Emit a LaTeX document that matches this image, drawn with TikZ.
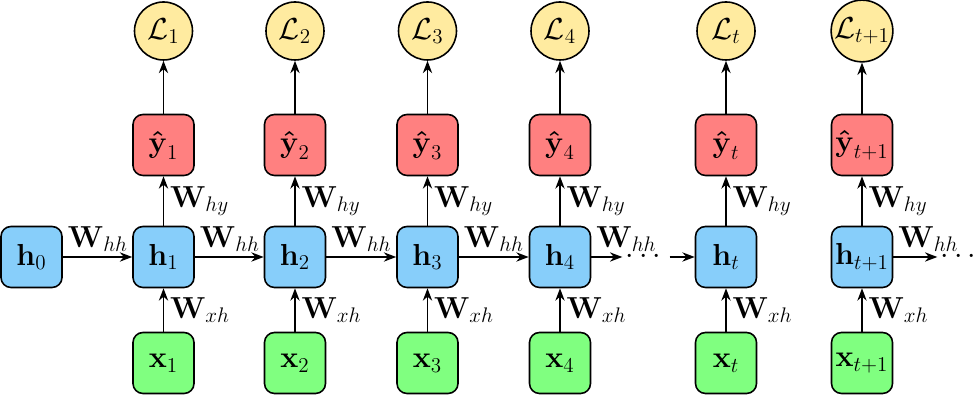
\documentclass[tikz,border=0pt]{standalone}
\usepackage{amsmath,amssymb}
\usetikzlibrary{arrows.meta,positioning}
\definecolor{HidBlue}{HTML}{87CEFA}
\definecolor{OutRed}{HTML}{FF8080}
\definecolor{InGreen}{HTML}{80FF80}
\definecolor{LossYellow}{HTML}{FFEBA0}
\begin{document}
\begin{tikzpicture}[>=Stealth, font=\LARGE, line width=0.9pt,
   cell/.style={draw, rounded corners=0.2cm, minimum size=1.22cm, inner sep=1pt},
   hid/.style={cell, fill=HidBlue},
   inp/.style={cell, fill=InGreen},
   outp/.style={cell, fill=OutRed},
   loss/.style={draw, circle, minimum size=1.16cm, inner sep=0pt, fill=LossYellow},
   gap/.style={inner sep=1.5pt},
   wlab/.style={pos=0, anchor=south west, inner sep=2.5pt}]
  \useasboundingbox (0,0) rectangle (19.6,8.06);
  \node[hid] (h0) at (0.63,2.92) {$\mathbf{h}_0$};
  \foreach \x/\n/\s in {3.27/1/1, 5.90/2/2, 8.55/3/3, 11.20/4/4, 14.52/t/t, 17.24/tp/t+1} {
    \node[hid]  (h\n) at (\x,2.92) {$\mathbf{h}_{\s}$};
    \node[inp]  (x\n) at (\x,0.80) {$\mathbf{x}_{\s}$};
    \node[outp] (y\n) at (\x,5.16) {$\boldsymbol{\hat{\mathbf{y}}}_{\s}$};
    \node[loss] (L\n) at (\x,7.44) {$\mathcal{L}_{\s}$};
    \draw[->] (x\n) -- (h\n) node[midway,right]{$\mathbf{W}_{xh}$};
    \draw[->] (h\n) -- (y\n) node[midway,right]{$\mathbf{W}_{hy}$};
    \draw[->] (y\n) -- (L\n);
  }
  \node[gap] (d1) at (12.92,2.92) {$\cdots$};
  \node[gap] (d2) at (19.22,2.92) {$\cdots$};
  % recurrent chain
  \draw[->] (h0) -- (h1) node[wlab]{$\mathbf{W}_{hh}$};
  \draw[->] (h1) -- (h2) node[wlab]{$\mathbf{W}_{hh}$};
  \draw[->] (h2) -- (h3) node[wlab]{$\mathbf{W}_{hh}$};
  \draw[->] (h3) -- (h4) node[wlab]{$\mathbf{W}_{hh}$};
  \draw[->] (h4) -- (d1) node[wlab]{$\mathbf{W}_{hh}$};
  \draw[->] (d1) -- (ht);
  \draw[->] (htp) -- (d2) node[wlab]{$\mathbf{W}_{hh}$};
\end{tikzpicture}
\end{document}
